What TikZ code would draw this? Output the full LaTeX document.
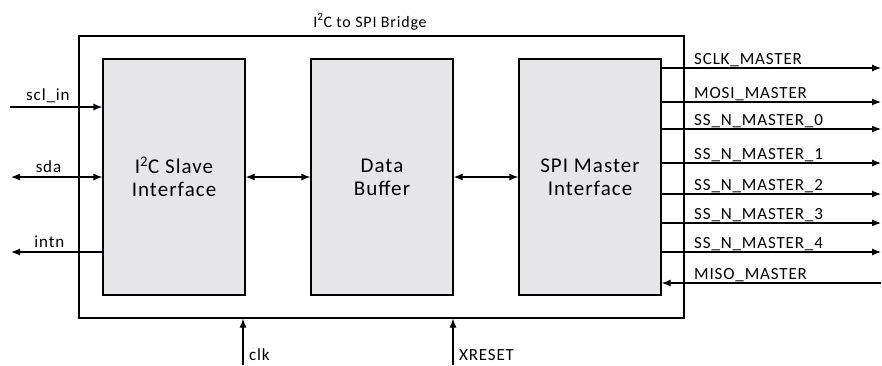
\documentclass[tikz,border=0pt]{standalone}
\usepackage{fontspec}
\setmainfont{Carlito}
\newfontfamily\spfont[LetterSpace=5]{Carlito}
\usepackage{xcolor}
\usetikzlibrary{calc,
	positioning,
	arrows.meta}
\definecolor{blockgray}{HTML}{E6E6E8}
\tikzstyle{blk}=[draw, line width=1.2pt, fill=blockgray, minimum width=142pt,
		minimum height=236pt, inner sep=0, align=center, font=\spfont\fontsize{21}{23}\selectfont]
\tikzstyle{frame}=[draw, line width=1.2pt, minimum width=605pt, minimum height=282pt, inner sep=0]
\tikzstyle{sig}=[line width=1.2pt, -{Latex[length=9pt,width=7pt]}]
\tikzstyle{bsig}=[line width=1.2pt, {Latex[length=9pt,width=7pt]}-{Latex[length=9pt,width=7pt]}]
\tikzstyle{lbl}=[inner sep=0pt, font=\spfont\fontsize{17}{19}\selectfont]

\begin{document}
\begin{tikzpicture}[x=1pt, y=-1pt]
        \useasboundingbox (0,0) rectangle (882,365);
        \node[frame] (bridge) at (381.5,177) {};
        \node[lbl, anchor=base, font=\spfont\fontsize{16}{18}\selectfont] at (370,27) {I\textsuperscript{2}C to SPI Bridge};
        \node[blk] (i2c) at (174,177) {I\textsuperscript{2}C Slave\\Interface};
        \node[blk] (buf) at (382,177) {Data\\Buffer};
        \node[blk] (spi) at (590,177) {SPI Master\\Interface};
        % left side
        \coordinate (scl) at (10,107);
        \coordinate (sda) at (11,177);
        \coordinate (intn) at (11,252);
        \draw[sig] (scl) -- (i2c.west |- scl) node[lbl, pos=0.41, above=4pt] {scl\_in};
        \draw[bsig] (sda) -- (i2c.west |- sda) node[lbl, pos=0.41, above=4pt] {sda};
        \draw[sig] (i2c.west |- intn) -- (intn) node[lbl, pos=0.58, above=4pt] {intn};
        % between blocks
        \draw[bsig] (i2c) -- (buf);
        \draw[bsig] (buf) -- (spi);
        % right side
        \foreach \i/\y/\name in {0/68/SCLK\_MASTER, 1/102/MOSI\_MASTER, 2/129/SS\_N\_MASTER\_0,
                3/163/SS\_N\_MASTER\_1, 4/194/SS\_N\_MASTER\_2, 5/223/SS\_N\_MASTER\_3,
                6/252/SS\_N\_MASTER\_4} {
            \coordinate (o\i) at (881,\y);
            \draw[sig] (spi.east |- o\i) -- (o\i);
            \node[lbl, anchor=base west] at (694,\y-4) {\name};
        }
        \coordinate (miso) at (881,283);
        \draw[sig] (miso) -- (spi.east |- miso);
        \node[lbl, anchor=base west] at (694,279) {MISO\_MASTER};
        % bottom
        \coordinate (clk) at (243,365);
        \coordinate (rst) at (453,365);
        \draw[sig] (clk) -- (clk |- bridge.south);
        \draw[sig] (rst) -- (rst |- bridge.south);
        \node[lbl, anchor=base west] at (249,360) {clk};
        \node[lbl, anchor=base west] at (459,360) {XRESET};
    \end{tikzpicture}
\end{document}
